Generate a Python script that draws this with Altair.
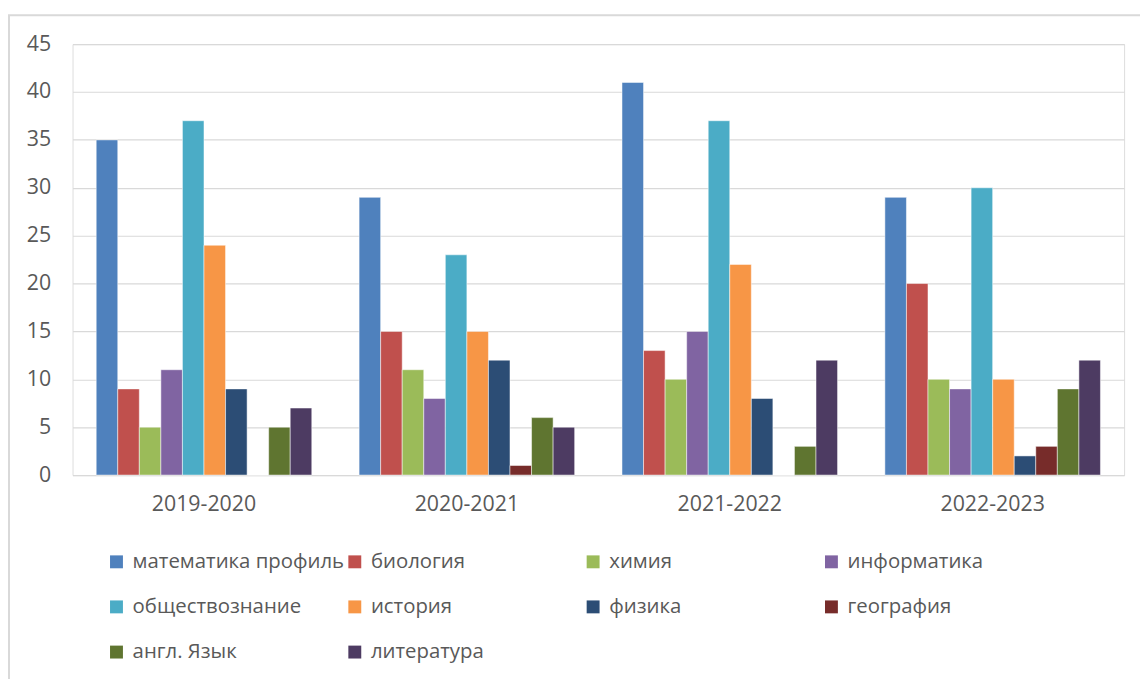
import altair as alt
import pandas as pd

years = ["2019-2020", "2020-2021", "2021-2022", "2022-2023"]
subjects = ["математика профиль", "биология", "химия", "информатика",
            "обществознание", "история", "физика", "география",
            "англ. Язык", "литература"]
colors = ["#4F81BD", "#C0504D", "#9BBB59", "#8064A2", "#4BACC6",
          "#F79646", "#2C4D75", "#772C2A", "#5F7530", "#4D3B62"]

math_prof = [35, 29, 41, 29]
biology = [9, 15, 13, 20]
chemistry = [5, 11, 10, 10]
informatics = [11, 8, 15, 9]
social = [37, 23, 37, 30]
history = [24, 15, 22, 10]
physics = [9, 12, 8, 2]
geography = [0, 1, 0, 3]
english = [5, 6, 3, 9]
literature = [7, 5, 12, 12]

series = [math_prof, biology, chemistry, informatics, social,
          history, physics, geography, english, literature]

rows = []
for subj, vals in zip(subjects, series):
    for yr, v in zip(years, vals):
        rows.append({"year": yr, "subject": subj, "value": v})
df = pd.DataFrame(rows)

FONT = "Open Sans"
TXT = "#595959"
GRID = "#D9D9D9"

W, H = 1059, 434

bars = alt.Chart(df).mark_bar(stroke="white", strokeWidth=0.5).encode(
    x=alt.X("year:N", sort=years,
            scale=alt.Scale(paddingInner=0.18, paddingOuter=0.09),
            axis=alt.Axis(title=None, labelAngle=0, domain=True, domainColor=GRID,
                          domainWidth=1, ticks=False, labelPadding=19,
                          labelFontSize=21.5, labelColor=TXT, labelFont=FONT)),
    xOffset=alt.XOffset("subject:N", sort=subjects,
                        scale=alt.Scale(paddingInner=0, paddingOuter=0)),
    y=alt.Y("value:Q", scale=alt.Scale(domain=[0, 45], nice=False),
            axis=alt.Axis(title=None, values=list(range(0, 50, 5)), domain=False,
                          ticks=False, gridColor=GRID, gridWidth=1.2, labelPadding=22,
                          labelFontSize=21.5, labelColor=TXT, labelFont=FONT)),
    color=alt.Color("subject:N", sort=subjects,
                    scale=alt.Scale(domain=subjects, range=colors),
                    legend=alt.Legend(title=None, orient="none", legendX=34, legendY=511,
                                      direction="horizontal",
                                      columns=4, gridAlign="all", symbolType="square",
                                      symbolSize=169, symbolStrokeWidth=0,
                                      rowPadding=24.5, columnPadding=0,
                                      labelFontSize=20.5, labelColor=TXT, labelFont=FONT,
                                      labelLimit=400, labelOffset=6)),
)

border = alt.Chart(alt.Data(values=[{}])).mark_rect(
    fill="transparent", stroke=GRID, strokeWidth=2
).encode(
    x=alt.value(-64), x2=alt.value(W + 60),
    y=alt.value(-29), y2=alt.value(H + 300),
)

chart = alt.layer(border, bars).properties(
    width=W, height=H,
    autosize=alt.AutoSizeParams(type="none"),
    padding={"left": 65, "top": 34, "right": 16, "bottom": 203},
).configure_view(strokeWidth=0).configure(font=FONT)

chart.save("out.html", embed_options={"renderer": "svg", "actions": False})
